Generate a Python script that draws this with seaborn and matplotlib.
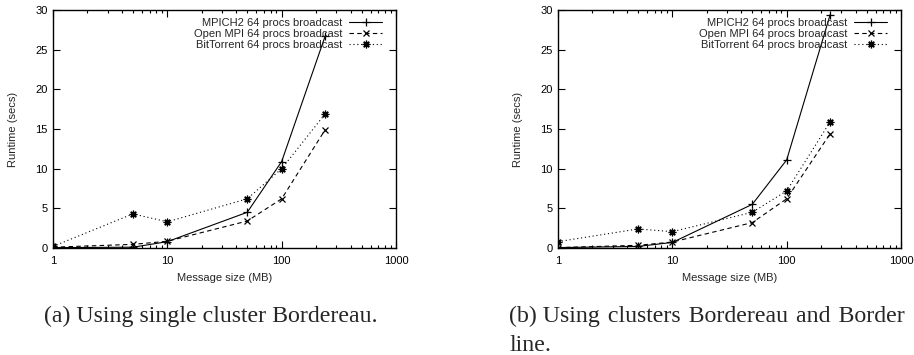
import matplotlib
matplotlib.use("Agg")
import matplotlib.pyplot as plt
import matplotlib.ticker as mticker
import seaborn as sns
import pandas as pd

# ---- data ----
sizes = [1, 5, 10, 50, 100, 240]
series_names = ["MPICH2 64 procs broadcast",
                "Open MPI 64 procs broadcast",
                "BitTorrent 64 procs broadcast"]
a_mpich = [0.05, 0.1, 0.8, 4.5, 10.9, 26.7]
a_ompi = [0.1, 0.46, 0.85, 3.4, 6.2, 14.9]
a_bt = [0.2, 4.3, 3.3, 6.2, 10.0, 16.9]
b_mpich = [0.05, 0.2, 0.7, 5.5, 11.1, 29.4]
b_ompi = [0.05, 0.34, 0.75, 3.2, 6.2, 14.4]
b_bt = [0.8, 2.4, 2.06, 4.5, 7.2, 15.9]
x_ticks = [1, 10, 100, 1000]
y_ticks = [0, 5, 10, 15, 20, 25, 30]
xlabel = "Message size (MB)"
ylabel = "Runtime (secs)"
caption_a = "(a) Using single cluster Bordereau."
caption_b1 = "(b) Using \u200aclusters \u200aBordereau \u200aand \u200aBorder"
caption_b2 = "line."

sns.set_style("ticks")
plt.rcParams["font.family"] = ["Liberation Sans", "DejaVu Sans"]
plt.rcParams["axes.linewidth"] = 1.0

styles = [
    dict(linestyle="-", marker="+", markersize=5.5),
    dict(linestyle=(0, (4, 3)), marker="x", markersize=4.5),
    dict(linestyle=(0, (1, 2.5)), marker=(8, 2, 0), markersize=5.5),
]

fig = plt.figure(figsize=(9.14, 3.55), dpi=100)
W, H = 914, 355
ax_a = fig.add_axes([53 / W, (H - 248) / H, 343 / W, 238 / H])
ax_b = fig.add_axes([558 / W, (H - 248) / H, 343 / W, 238 / H])


def draw(ax, vals):
    for name, v, st in zip(series_names, vals, styles):
        df = pd.DataFrame({"size": sizes, "runtime": v})
        sns.lineplot(data=df, x="size", y="runtime", ax=ax, color="black",
                     linewidth=0.8, markeredgewidth=0.9,
                     markeredgecolor="black", label=name, **st)
    ax.set_xscale("log")
    ax.set_xlim(1, 1000)
    ax.set_ylim(0, 30)
    ax.set_xticks(x_ticks)
    ax.xaxis.set_major_formatter(mticker.FuncFormatter(lambda v, p: "%g" % v))
    ax.xaxis.set_minor_locator(mticker.LogLocator(base=10, subs=range(2, 10)))
    ax.xaxis.set_minor_formatter(mticker.NullFormatter())
    ax.set_yticks(y_ticks)
    ax.yaxis.set_minor_locator(mticker.NullLocator())
    ax.tick_params(which="both", direction="in", top=True, right=True,
                   labelsize=8, colors="black")
    ax.tick_params(which="major", length=5, width=0.8)
    ax.tick_params(which="minor", length=2.5, width=0.8)
    ax.tick_params(axis="x", pad=6)
    ax.tick_params(axis="y", pad=4)
    ax.set_xlabel(xlabel, fontsize=8)
    ax.set_ylabel(ylabel, fontsize=8)
    ax.xaxis.set_label_coords(0.5, -0.105)
    ax.yaxis.set_label_coords(-0.102, 0.5)
    for s in ax.spines.values():
        s.set_color("black")
    leg = ax.legend(loc="upper right", bbox_to_anchor=(1.0 - 7 / 343, 1.0 - 1 / 238),
                    frameon=False, fontsize=8, markerfirst=False,
                    handlelength=3.0, handletextpad=0.6, labelspacing=0.12,
                    borderaxespad=0.0, borderpad=0.6)
    return leg


draw(ax_a, [a_mpich, a_ompi, a_bt])
draw(ax_b, [b_mpich, b_ompi, b_bt])

serif = ["Liberation Serif", "DejaVu Serif"]
fig.text(44 / W, (H - 321.7) / H, caption_a, family=serif, fontsize=17.2,
         ha="left", va="baseline")
fig.text(509 / W, (H - 321.7) / H, caption_b1, family=serif, fontsize=17.2,
         ha="left", va="baseline")
fig.text(509 / W, (H - 350.7) / H, caption_b2, family=serif, fontsize=17.2,
         ha="left", va="baseline")

fig.savefig("out.png", dpi=100)
